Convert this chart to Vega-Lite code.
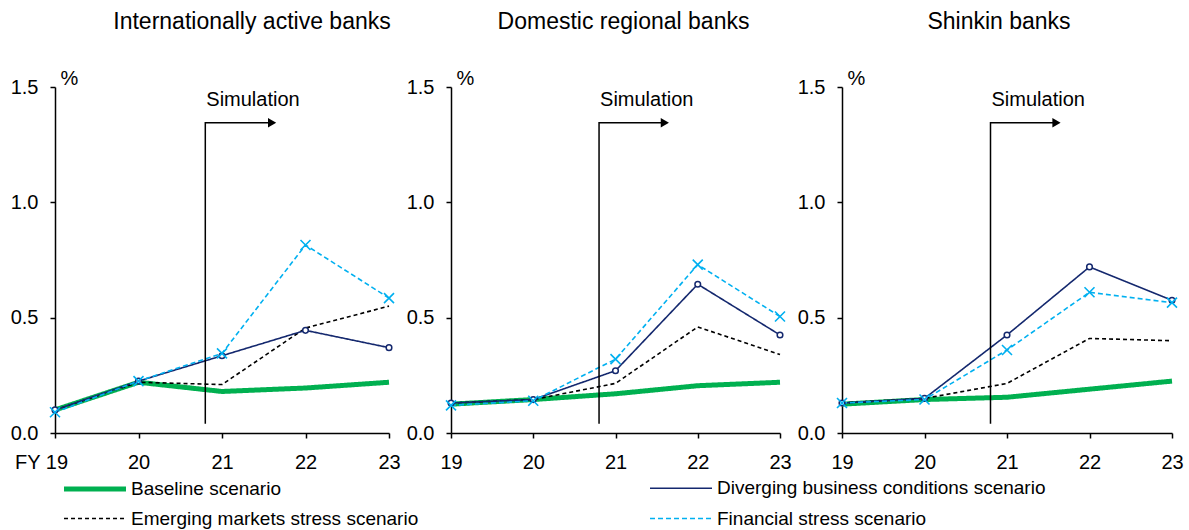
{
  "$schema": "https://vega.github.io/schema/vega-lite/v6.json",
  "background": "white",
  "padding": {"left": 10, "top": 11, "right": 5, "bottom": 5},
  "config": {
    "font": "Liberation Sans",
    "view": {"stroke": null},
    "axis": {"domainColor": "black", "domainWidth": 1.5, "tickColor": "black", "tickWidth": 1.5, "tickSize": 5, "labelFontSize": 20, "labelColor": "black", "grid": false, "labelFont": "Liberation Sans", "labelFlush": false, "labelOverlap": false},
    "title": {"fontSize": 23, "fontWeight": "normal", "color": "black", "font": "Liberation Sans", "frame": "group", "anchor": "middle"}
  },
  "datasets": {
    "lines": [
      {"panel": "A", "scenario": "Baseline scenario", "fy": 19, "value": 0.10},
      {"panel": "A", "scenario": "Baseline scenario", "fy": 20, "value": 0.22},
      {"panel": "A", "scenario": "Baseline scenario", "fy": 21, "value": 0.18},
      {"panel": "A", "scenario": "Baseline scenario", "fy": 22, "value": 0.195},
      {"panel": "A", "scenario": "Baseline scenario", "fy": 23, "value": 0.22},
      {"panel": "A", "scenario": "Emerging markets stress scenario", "fy": 19, "value": 0.10},
      {"panel": "A", "scenario": "Emerging markets stress scenario", "fy": 20, "value": 0.22},
      {"panel": "A", "scenario": "Emerging markets stress scenario", "fy": 21, "value": 0.21},
      {"panel": "A", "scenario": "Emerging markets stress scenario", "fy": 22, "value": 0.455},
      {"panel": "A", "scenario": "Emerging markets stress scenario", "fy": 23, "value": 0.55},
      {"panel": "A", "scenario": "Diverging business conditions scenario", "fy": 19, "value": 0.10},
      {"panel": "A", "scenario": "Diverging business conditions scenario", "fy": 20, "value": 0.225},
      {"panel": "A", "scenario": "Diverging business conditions scenario", "fy": 21, "value": 0.335},
      {"panel": "A", "scenario": "Diverging business conditions scenario", "fy": 22, "value": 0.445},
      {"panel": "A", "scenario": "Diverging business conditions scenario", "fy": 23, "value": 0.37},
      {"panel": "A", "scenario": "Financial stress scenario", "fy": 19, "value": 0.09},
      {"panel": "A", "scenario": "Financial stress scenario", "fy": 20, "value": 0.225},
      {"panel": "A", "scenario": "Financial stress scenario", "fy": 21, "value": 0.345},
      {"panel": "A", "scenario": "Financial stress scenario", "fy": 22, "value": 0.815},
      {"panel": "A", "scenario": "Financial stress scenario", "fy": 23, "value": 0.585},

      {"panel": "B", "scenario": "Baseline scenario", "fy": 19, "value": 0.125},
      {"panel": "B", "scenario": "Baseline scenario", "fy": 20, "value": 0.145},
      {"panel": "B", "scenario": "Baseline scenario", "fy": 21, "value": 0.17},
      {"panel": "B", "scenario": "Baseline scenario", "fy": 22, "value": 0.205},
      {"panel": "B", "scenario": "Baseline scenario", "fy": 23, "value": 0.22},
      {"panel": "B", "scenario": "Emerging markets stress scenario", "fy": 19, "value": 0.13},
      {"panel": "B", "scenario": "Emerging markets stress scenario", "fy": 20, "value": 0.145},
      {"panel": "B", "scenario": "Emerging markets stress scenario", "fy": 21, "value": 0.215},
      {"panel": "B", "scenario": "Emerging markets stress scenario", "fy": 22, "value": 0.46},
      {"panel": "B", "scenario": "Emerging markets stress scenario", "fy": 23, "value": 0.34},
      {"panel": "B", "scenario": "Diverging business conditions scenario", "fy": 19, "value": 0.13},
      {"panel": "B", "scenario": "Diverging business conditions scenario", "fy": 20, "value": 0.145},
      {"panel": "B", "scenario": "Diverging business conditions scenario", "fy": 21, "value": 0.27},
      {"panel": "B", "scenario": "Diverging business conditions scenario", "fy": 22, "value": 0.645},
      {"panel": "B", "scenario": "Diverging business conditions scenario", "fy": 23, "value": 0.425},
      {"panel": "B", "scenario": "Financial stress scenario", "fy": 19, "value": 0.12},
      {"panel": "B", "scenario": "Financial stress scenario", "fy": 20, "value": 0.14},
      {"panel": "B", "scenario": "Financial stress scenario", "fy": 21, "value": 0.32},
      {"panel": "B", "scenario": "Financial stress scenario", "fy": 22, "value": 0.73},
      {"panel": "B", "scenario": "Financial stress scenario", "fy": 23, "value": 0.505},

      {"panel": "C", "scenario": "Baseline scenario", "fy": 19, "value": 0.125},
      {"panel": "C", "scenario": "Baseline scenario", "fy": 20, "value": 0.145},
      {"panel": "C", "scenario": "Baseline scenario", "fy": 21, "value": 0.155},
      {"panel": "C", "scenario": "Baseline scenario", "fy": 22, "value": 0.19},
      {"panel": "C", "scenario": "Baseline scenario", "fy": 23, "value": 0.225},
      {"panel": "C", "scenario": "Emerging markets stress scenario", "fy": 19, "value": 0.13},
      {"panel": "C", "scenario": "Emerging markets stress scenario", "fy": 20, "value": 0.15},
      {"panel": "C", "scenario": "Emerging markets stress scenario", "fy": 21, "value": 0.215},
      {"panel": "C", "scenario": "Emerging markets stress scenario", "fy": 22, "value": 0.41},
      {"panel": "C", "scenario": "Emerging markets stress scenario", "fy": 23, "value": 0.40},
      {"panel": "C", "scenario": "Diverging business conditions scenario", "fy": 19, "value": 0.13},
      {"panel": "C", "scenario": "Diverging business conditions scenario", "fy": 20, "value": 0.15},
      {"panel": "C", "scenario": "Diverging business conditions scenario", "fy": 21, "value": 0.425},
      {"panel": "C", "scenario": "Diverging business conditions scenario", "fy": 22, "value": 0.72},
      {"panel": "C", "scenario": "Diverging business conditions scenario", "fy": 23, "value": 0.575},
      {"panel": "C", "scenario": "Financial stress scenario", "fy": 19, "value": 0.13},
      {"panel": "C", "scenario": "Financial stress scenario", "fy": 20, "value": 0.145},
      {"panel": "C", "scenario": "Financial stress scenario", "fy": 21, "value": 0.36},
      {"panel": "C", "scenario": "Financial stress scenario", "fy": 22, "value": 0.61},
      {"panel": "C", "scenario": "Financial stress scenario", "fy": 23, "value": 0.565}
    ],
    "sim": [
      {"seq": 1, "sx": 20.8, "sy": 0.04},
      {"seq": 2, "sx": 20.8, "sy": 1.345},
      {"seq": 3, "sx": 21.56, "sy": 1.345}
    ],
    "simhead": [{"sx": 21.6, "sy": 1.345}],
    "simtext": [{"sx": 20.8, "sy": 1.445, "label": "Simulation"}]
  },
  "bounds": "flush",
  "spacing": 62,
  "resolve": {"scale": {"color": "shared", "strokeDash": "shared", "strokeWidth": "shared"}, "legend": {"color": "shared", "strokeDash": "shared", "strokeWidth": "shared"}},
  "hconcat": [
    {
      "width": 334, "height": 346,
      "title": {"text": "Internationally active banks", "dx": 30, "offset": 34},
      "layer": [
        {
          "data": {"name": "lines"},
          "transform": [{"filter": "datum.panel == 'A'"}],
          "mark": {"type": "line", "strokeCap": "butt", "strokeJoin": "round"},
          "encoding": {
            "x": {"field": "fy", "type": "quantitative", "scale": {"domain": [19, 23], "nice": false, "zero": false},
                  "axis": {"values": [19, 20, 21, 22, 23], "format": "d", "title": null, "labelPadding": 14,
                           "labelExpr": "datum.value == 19 ? 'FY 19' : datum.label",
                           "labelOffset": {"condition": {"test": "datum.value == 19", "value": -14}, "value": 0}}},
            "y": {"field": "value", "type": "quantitative", "scale": {"domain": [0, 1.5], "nice": false},
                  "axis": {"values": [0, 0.5, 1, 1.5], "format": ".1f", "labelPadding": 12, "title": "%", "titleAngle": 0, "titleAlign": "left", "titleBaseline": "alphabetic", "titleX": 5, "titleY": -3, "titleFontSize": 20, "titleFontWeight": "normal", "titleColor": "black"}},
            "color": {"field": "scenario", "type": "nominal",
                      "scale": {"domain": ["Baseline scenario", "Diverging business conditions scenario", "Emerging markets stress scenario", "Financial stress scenario"], "range": ["#00B050", "#14286e", "#000000", "#00B0F0"]},
                      "legend": {"orient": "none", "legendX": 27, "legendY": 389, "direction": "horizontal", "columns": 2, "columnPadding": 227, "rowPadding": 8, "symbolType": "M-3,0H3", "symbolSize": 427, "labelFontSize": 19, "labelOffset": 23, "labelLimit": 500, "title": null, "labelColor": "black"}},
            "strokeDash": {"field": "scenario", "type": "nominal",
                           "scale": {"domain": ["Baseline scenario", "Diverging business conditions scenario", "Emerging markets stress scenario", "Financial stress scenario"], "range": [[1, 0], [1, 0], [4, 3], [5, 3]]}},
            "strokeWidth": {"field": "scenario", "type": "nominal",
                            "scale": {"type": "ordinal", "domain": ["Baseline scenario", "Diverging business conditions scenario", "Emerging markets stress scenario", "Financial stress scenario"], "range": [5, 1.6, 1.6, 1.6]}}
          }
        },
        {
          "data": {"name": "lines"},
          "transform": [{"filter": "datum.panel == 'A' && datum.scenario == 'Diverging business conditions scenario'"}],
          "mark": {"type": "point", "shape": "circle", "filled": true, "fill": "white", "stroke": "#14286e", "strokeWidth": 1.5, "size": 32, "opacity": 1},
          "encoding": {"x": {"field": "fy", "type": "quantitative"}, "y": {"field": "value", "type": "quantitative"}}
        },
        {
          "data": {"name": "lines"},
          "transform": [{"filter": "datum.panel == 'A' && datum.scenario == 'Financial stress scenario'"}],
          "mark": {"type": "point", "shape": "M-1,-1L1,1M1,-1L-1,1", "filled": false, "stroke": "#00B0F0", "strokeWidth": 1.6, "size": 100, "opacity": 1},
          "encoding": {"x": {"field": "fy", "type": "quantitative"}, "y": {"field": "value", "type": "quantitative"}}
        },
        {
          "data": {"name": "sim"},
          "mark": {"type": "line", "color": "black", "strokeWidth": 1.5},
          "encoding": {"x": {"field": "sx", "type": "quantitative"}, "y": {"field": "sy", "type": "quantitative"}, "order": {"field": "seq", "type": "quantitative"}}
        },
        {
          "data": {"name": "simhead"},
          "mark": {"type": "point", "shape": "triangle-right", "filled": true, "color": "black", "size": 90, "opacity": 1},
          "encoding": {"x": {"field": "sx", "type": "quantitative"}, "y": {"field": "sy", "type": "quantitative"}}
        },
        {
          "data": {"name": "simtext"},
          "mark": {"type": "text", "align": "left", "baseline": "middle", "fontSize": 20, "color": "black", "dx": 1},
          "encoding": {"x": {"field": "sx", "type": "quantitative"}, "y": {"field": "sy", "type": "quantitative"}, "text": {"field": "label"}}
        }
      ]
    },
    {
      "width": 329, "height": 346,
      "title": {"text": "Domestic regional banks", "dx": 8, "offset": 34},
      "layer": [
        {
          "data": {"name": "lines"},
          "transform": [{"filter": "datum.panel == 'B'"}],
          "mark": {"type": "line", "strokeCap": "butt", "strokeJoin": "round"},
          "encoding": {
            "x": {"field": "fy", "type": "quantitative", "scale": {"domain": [19, 23], "nice": false, "zero": false},
                  "axis": {"values": [19, 20, 21, 22, 23], "format": "d", "title": null, "labelPadding": 14}},
            "y": {"field": "value", "type": "quantitative", "scale": {"domain": [0, 1.5], "nice": false},
                  "axis": {"values": [0, 0.5, 1, 1.5], "format": ".1f", "labelPadding": 12, "title": "%", "titleAngle": 0, "titleAlign": "left", "titleBaseline": "alphabetic", "titleX": 5, "titleY": -3, "titleFontSize": 20, "titleFontWeight": "normal", "titleColor": "black"}},
            "color": {"field": "scenario", "type": "nominal",
                      "scale": {"domain": ["Baseline scenario", "Diverging business conditions scenario", "Emerging markets stress scenario", "Financial stress scenario"], "range": ["#00B050", "#14286e", "#000000", "#00B0F0"]}},
            "strokeDash": {"field": "scenario", "type": "nominal",
                           "scale": {"domain": ["Baseline scenario", "Diverging business conditions scenario", "Emerging markets stress scenario", "Financial stress scenario"], "range": [[1, 0], [1, 0], [4, 3], [5, 3]]}},
            "strokeWidth": {"field": "scenario", "type": "nominal",
                            "scale": {"type": "ordinal", "domain": ["Baseline scenario", "Diverging business conditions scenario", "Emerging markets stress scenario", "Financial stress scenario"], "range": [5, 1.6, 1.6, 1.6]}}
          }
        },
        {
          "data": {"name": "lines"},
          "transform": [{"filter": "datum.panel == 'B' && datum.scenario == 'Diverging business conditions scenario'"}],
          "mark": {"type": "point", "shape": "circle", "filled": true, "fill": "white", "stroke": "#14286e", "strokeWidth": 1.5, "size": 32, "opacity": 1},
          "encoding": {"x": {"field": "fy", "type": "quantitative"}, "y": {"field": "value", "type": "quantitative"}}
        },
        {
          "data": {"name": "lines"},
          "transform": [{"filter": "datum.panel == 'B' && datum.scenario == 'Financial stress scenario'"}],
          "mark": {"type": "point", "shape": "M-1,-1L1,1M1,-1L-1,1", "filled": false, "stroke": "#00B0F0", "strokeWidth": 1.6, "size": 100, "opacity": 1},
          "encoding": {"x": {"field": "fy", "type": "quantitative"}, "y": {"field": "value", "type": "quantitative"}}
        },
        {
          "data": {"name": "sim"},
          "mark": {"type": "line", "color": "black", "strokeWidth": 1.5},
          "encoding": {"x": {"field": "sx", "type": "quantitative"}, "y": {"field": "sy", "type": "quantitative"}, "order": {"field": "seq", "type": "quantitative"}}
        },
        {
          "data": {"name": "simhead"},
          "mark": {"type": "point", "shape": "triangle-right", "filled": true, "color": "black", "size": 90, "opacity": 1},
          "encoding": {"x": {"field": "sx", "type": "quantitative"}, "y": {"field": "sy", "type": "quantitative"}}
        },
        {
          "data": {"name": "simtext"},
          "mark": {"type": "text", "align": "left", "baseline": "middle", "fontSize": 20, "color": "black", "dx": 1},
          "encoding": {"x": {"field": "sx", "type": "quantitative"}, "y": {"field": "sy", "type": "quantitative"}, "text": {"field": "label"}}
        }
      ]
    },
    {
      "width": 330, "height": 346,
      "title": {"text": "Shinkin banks", "dx": -8, "offset": 34},
      "layer": [
        {
          "data": {"name": "lines"},
          "transform": [{"filter": "datum.panel == 'C'"}],
          "mark": {"type": "line", "strokeCap": "butt", "strokeJoin": "round"},
          "encoding": {
            "x": {"field": "fy", "type": "quantitative", "scale": {"domain": [19, 23], "nice": false, "zero": false},
                  "axis": {"values": [19, 20, 21, 22, 23], "format": "d", "title": null, "labelPadding": 14}},
            "y": {"field": "value", "type": "quantitative", "scale": {"domain": [0, 1.5], "nice": false},
                  "axis": {"values": [0, 0.5, 1, 1.5], "format": ".1f", "labelPadding": 12, "title": "%", "titleAngle": 0, "titleAlign": "left", "titleBaseline": "alphabetic", "titleX": 5, "titleY": -3, "titleFontSize": 20, "titleFontWeight": "normal", "titleColor": "black"}},
            "color": {"field": "scenario", "type": "nominal",
                      "scale": {"domain": ["Baseline scenario", "Diverging business conditions scenario", "Emerging markets stress scenario", "Financial stress scenario"], "range": ["#00B050", "#14286e", "#000000", "#00B0F0"]}},
            "strokeDash": {"field": "scenario", "type": "nominal",
                           "scale": {"domain": ["Baseline scenario", "Diverging business conditions scenario", "Emerging markets stress scenario", "Financial stress scenario"], "range": [[1, 0], [1, 0], [4, 3], [5, 3]]}},
            "strokeWidth": {"field": "scenario", "type": "nominal",
                            "scale": {"type": "ordinal", "domain": ["Baseline scenario", "Diverging business conditions scenario", "Emerging markets stress scenario", "Financial stress scenario"], "range": [5, 1.6, 1.6, 1.6]}}
          }
        },
        {
          "data": {"name": "lines"},
          "transform": [{"filter": "datum.panel == 'C' && datum.scenario == 'Diverging business conditions scenario'"}],
          "mark": {"type": "point", "shape": "circle", "filled": true, "fill": "white", "stroke": "#14286e", "strokeWidth": 1.5, "size": 32, "opacity": 1},
          "encoding": {"x": {"field": "fy", "type": "quantitative"}, "y": {"field": "value", "type": "quantitative"}}
        },
        {
          "data": {"name": "lines"},
          "transform": [{"filter": "datum.panel == 'C' && datum.scenario == 'Financial stress scenario'"}],
          "mark": {"type": "point", "shape": "M-1,-1L1,1M1,-1L-1,1", "filled": false, "stroke": "#00B0F0", "strokeWidth": 1.6, "size": 100, "opacity": 1},
          "encoding": {"x": {"field": "fy", "type": "quantitative"}, "y": {"field": "value", "type": "quantitative"}}
        },
        {
          "data": {"name": "sim"},
          "mark": {"type": "line", "color": "black", "strokeWidth": 1.5},
          "encoding": {"x": {"field": "sx", "type": "quantitative"}, "y": {"field": "sy", "type": "quantitative"}, "order": {"field": "seq", "type": "quantitative"}}
        },
        {
          "data": {"name": "simhead"},
          "mark": {"type": "point", "shape": "triangle-right", "filled": true, "color": "black", "size": 90, "opacity": 1},
          "encoding": {"x": {"field": "sx", "type": "quantitative"}, "y": {"field": "sy", "type": "quantitative"}}
        },
        {
          "data": {"name": "simtext"},
          "mark": {"type": "text", "align": "left", "baseline": "middle", "fontSize": 20, "color": "black", "dx": 1},
          "encoding": {"x": {"field": "sx", "type": "quantitative"}, "y": {"field": "sy", "type": "quantitative"}, "text": {"field": "label"}}
        }
      ]
    }
  ]
}
